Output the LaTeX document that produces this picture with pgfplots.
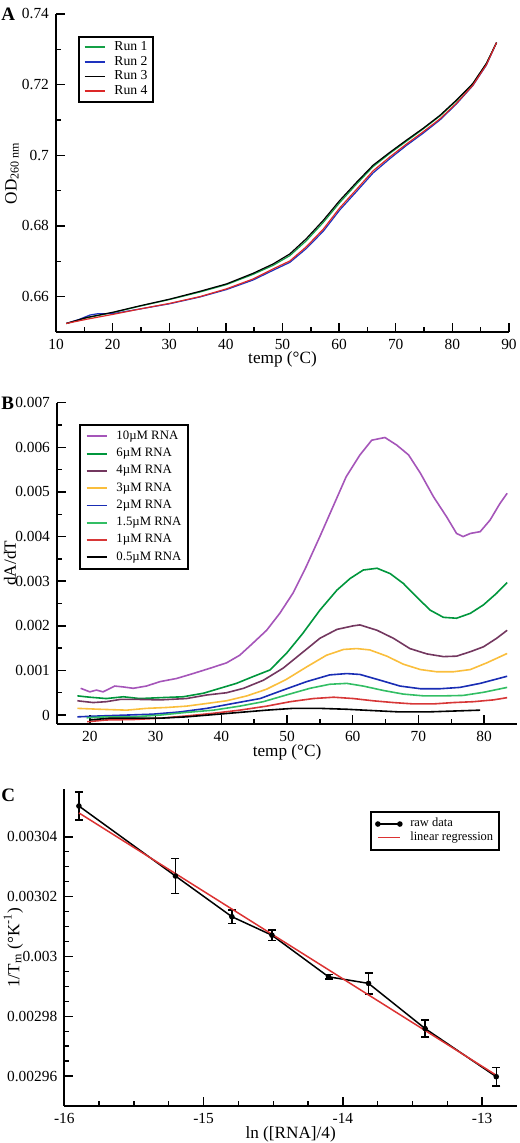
\documentclass[border=0pt]{standalone}
\usepackage{fontspec}
\setmainfont{Liberation Serif}
\usepackage{pgfplots}
\pgfplotsset{compat=1.18}

\definecolor{cGreenA}{RGB}{20,160,70}
\definecolor{cBlueA}{RGB}{30,50,190}
\definecolor{cRedA}{RGB}{220,40,40}
\definecolor{cPurple}{RGB}{165,85,185}
\definecolor{cGreen6}{RGB}{0,150,60}
\definecolor{cMaroon}{RGB}{115,55,95}
\definecolor{cYellow}{RGB}{250,190,60}
\definecolor{cBlue2}{RGB}{25,45,180}
\definecolor{cLGreen}{RGB}{50,190,100}
\definecolor{cRed1}{RGB}{215,55,55}
\definecolor{cRegr}{RGB}{220,50,50}

\pgfplotsset{
  myaxis/.style={
    scale only axis,
    axis lines*=left,
    axis line style={line width=1pt},
    tick align=inside,
    major tick length=4.5pt,
    minor tick length=2.5pt,
    every tick/.style={black, line width=0.7pt},
    tick label style={font=\fontsize{7.7}{8}\selectfont},
    label style={font=\fontsize{8.6}{9}\selectfont},
    /pgf/number format/assume math mode=true,
    scaled ticks=false,
    legend cell align=left,
    legend image code/.code={\draw[##1, line width=0.9pt] (0pt,0pt) -- (10pt,0pt);},
  },
  rawleg/.style={legend image code/.code={\draw[##1] plot coordinates {(0pt,0pt) (11pt,0pt)};}},
  regleg/.style={legend image code/.code={\draw[##1] (0pt,0pt) -- (11pt,0pt);}},
}

\begin{document}
\begin{tikzpicture}
\useasboundingbox (0,0) rectangle (259.5pt,571.5pt);

% ---------------- Panel A ----------------
\begin{axis}[myaxis,
  at={(28pt,405.5pt)}, anchor=south west,
  width=226.5pt, height=159pt,
  xmin=10, xmax=90, ymin=0.65, ymax=0.74,
  xtick={10,20,...,90}, minor x tick num=1,
  ytick={0.66,0.68,0.7,0.72,0.74}, minor y tick num=1,
  yticklabel style={/pgf/number format/.cd, fixed, precision=2},
  xlabel={temp (°C)},
  ylabel={OD\textsubscript{260 nm}},
  xlabel style={at={(axis description cs:0.5,-0.085)}, anchor=center},
  ylabel style={at={(axis description cs:-0.097,0.5)}, anchor=center},
  legend style={at={(axis description cs:0.0486,0.931)}, anchor=north west,
    draw=black, line width=1pt, font=\fontsize{6.85}{7.2}\selectfont,
    inner xsep=2.3pt, inner ysep=1.8pt, nodes={inner sep=0.5pt, text depth=0.12em},
    row sep=0.6pt, column sep=4pt},
]
\addplot[cGreenA, line width=0.6pt] coordinates {
(11.8,0.6524) (15.4,0.6540) (20.1,0.6555) (24.8,0.6573) (30.1,0.6592) (35.4,0.6613)
(40.1,0.6634) (44.8,0.6663) (48.4,0.6689) (51.3,0.6716) (54.2,0.6758) (57.2,0.6810)
(60.1,0.6866) (63.1,0.6919) (66.0,0.6968) (69.0,0.7006) (71.9,0.7040) (74.8,0.7074)
(77.8,0.7111) (80.7,0.7154) (83.6,0.7202) (86.0,0.7259) (87.8,0.7319)};
\addlegendentry{Run 1}
\addplot[cBlueA, line width=0.6pt] coordinates {
(11.8,0.6524) (14.0,0.6535) (16.0,0.6548) (17.5,0.6552) (20.1,0.6552) (24.8,0.6565)
(30.1,0.6580) (35.4,0.6599) (40.1,0.6620) (44.8,0.6647) (48.4,0.6675) (51.3,0.6697)
(54.2,0.6736) (57.2,0.6785) (60.1,0.6845) (63.1,0.6898) (66.0,0.6950) (69.0,0.6991)
(71.9,0.7028) (74.8,0.7062) (77.8,0.7100) (80.7,0.7145) (83.6,0.7197) (86.0,0.7255) (87.8,0.7319)};
\addlegendentry{Run 2}
\addplot[black, line width=0.6pt] coordinates {
(11.8,0.6524) (15.4,0.6541) (20.1,0.6556) (24.8,0.6574) (30.1,0.6593) (35.4,0.6615)
(40.1,0.6636) (44.8,0.6666) (48.4,0.6693) (51.3,0.6721) (54.2,0.6764) (57.2,0.6816)
(60.1,0.6872) (63.1,0.6924) (66.0,0.6972) (69.0,0.7009) (71.9,0.7043) (74.8,0.7076)
(77.8,0.7113) (80.7,0.7156) (83.6,0.7203) (86.0,0.7260) (87.8,0.7319)};
\addlegendentry{Run 3}
\addplot[cRedA, line width=0.6pt] coordinates {
(11.8,0.6524) (15.4,0.6536) (20.1,0.6550) (24.8,0.6565) (30.1,0.6581) (35.4,0.6600)
(40.1,0.6622) (44.8,0.6650) (48.4,0.6679) (51.3,0.6701) (54.2,0.6741) (57.2,0.6791)
(60.1,0.6851) (63.1,0.6904) (66.0,0.6956) (69.0,0.6996) (71.9,0.7032) (74.8,0.7066)
(77.8,0.7103) (80.7,0.7147) (83.6,0.7198) (86.0,0.7256) (87.8,0.7319)};
\addlegendentry{Run 4}
\end{axis}

% ---------------- Panel B ----------------
\begin{axis}[myaxis,
  at={(28.5pt,209.5pt)}, anchor=south west,
  width=230pt, height=160.65pt,
  xmin=15, xmax=85, ymin=-0.0002, ymax=0.007,
  xtick={20,30,...,80}, minor x tick num=1,
  ytick={0,0.001,0.002,0.003,0.004,0.005,0.006,0.007}, minor y tick num=1,
  yticklabel style={/pgf/number format/.cd, fixed, precision=3},
  xlabel={temp (°C)},
  ylabel={dA/dT},
  xlabel style={at={(axis description cs:0.5,-0.087)}, anchor=center},
  ylabel style={at={(axis description cs:-0.102,0.5)}, anchor=center},
  legend style={at={(axis description cs:0.048,0.934)}, anchor=north west,
    draw=black, line width=1pt, font=\fontsize{6.4}{7}\selectfont,
    inner xsep=2.8pt, inner ysep=2.5pt, nodes={inner sep=0.5pt, text depth=0.12em},
    row sep=2.2pt, column sep=4pt},
]
\addplot[cPurple, line width=0.8pt] coordinates {
(18.6,0.00060) (20,0.00052) (21,0.00056) (22,0.00052) (23.8,0.00065) (25.1,0.00063)
(26.6,0.00060) (28.6,0.00065) (30.7,0.00075) (33.2,0.00082) (35.7,0.00093) (38.3,0.00105)
(40.8,0.00117) (42.8,0.00134) (44.8,0.00161) (46.9,0.00190) (48.9,0.00228) (50.9,0.00273)
(52.9,0.00332) (55.0,0.00400) (57.0,0.00467) (59.0,0.00534) (61.1,0.00583) (62.9,0.00616)
(64.9,0.00622) (66.7,0.00605) (68.5,0.00583) (70.3,0.00542) (72.3,0.00489) (74.3,0.00444)
(75.8,0.00407) (76.8,0.00400) (77.9,0.00407) (79.4,0.00411) (80.9,0.00437) (82.4,0.00474) (83.5,0.00497)};
\addlegendentry{10µM RNA}
\addplot[cGreen6, line width=0.8pt] coordinates {
(18.1,0.00043) (20,0.00040) (22.5,0.00037) (25.1,0.00041) (27.6,0.00037) (30.7,0.00039)
(34.2,0.00041) (37.3,0.00049) (39.8,0.00060) (42.3,0.00071) (44.8,0.00086) (47.4,0.00101)
(49.9,0.00138) (52.4,0.00183) (55.0,0.00235) (57.6,0.00280) (59.6,0.00306) (61.6,0.00325)
(63.7,0.00329) (65.7,0.00317) (67.7,0.00295) (69.7,0.00265) (71.8,0.00235) (73.8,0.00219)
(75.8,0.00217) (77.9,0.00228) (79.9,0.00247) (81.9,0.00273) (83.5,0.00297)};
\addlegendentry{6µM RNA}
\addplot[cMaroon, line width=0.8pt] coordinates {
(18.1,0.00032) (20.5,0.00028) (22.5,0.00030) (24.6,0.00035) (27.6,0.00035) (30.7,0.00034)
(34.7,0.00037) (37.8,0.00045) (40.8,0.00050) (43.4,0.00060) (46.4,0.00078) (49.4,0.00105)
(52.5,0.00142) (55.0,0.00172) (57.6,0.00192) (60.1,0.00200) (61.1,0.00202) (63.7,0.00190)
(66.2,0.00172) (68.7,0.00149) (71.3,0.00137) (73.8,0.00131) (75.8,0.00132) (77.9,0.00142)
(79.9,0.00153) (81.9,0.00172) (83.5,0.00190)};
\addlegendentry{4µM RNA}
\addplot[cYellow, line width=0.8pt] coordinates {
(18.1,0.00015) (21.5,0.00013) (25.6,0.00011) (28.6,0.00015) (31.7,0.00017) (34.7,0.00020)
(37.8,0.00026) (40.8,0.00032) (43.9,0.00043) (46.9,0.00058) (49.9,0.00080) (53.0,0.00108)
(56.0,0.00134) (58.6,0.00147) (60.6,0.00149) (62.6,0.00146) (65.2,0.00132) (67.7,0.00114)
(70.3,0.00102) (72.8,0.00097) (75.3,0.00097) (77.9,0.00102) (80.4,0.00117) (83.5,0.00138)};
\addlegendentry{3µM RNA}
\addplot[cBlue2, line width=0.8pt] coordinates {
(18.1,-0.00004) (21.5,-0.00002) (25.6,0.00000) (29.6,0.00002) (33.7,0.00007) (37.8,0.00015)
(41.8,0.00026) (45.9,0.00037) (49.4,0.00056) (53.0,0.00075) (56.5,0.00090) (59.1,0.00093)
(61.1,0.00091) (64.2,0.00078) (67.2,0.00065) (70.3,0.00059) (73.3,0.00059) (76.3,0.00062)
(79.4,0.00071) (83.5,0.00087)};
\addlegendentry{2µM RNA}
\addplot[cLGreen, line width=0.8pt] coordinates {
(19.5,-0.00006) (22.5,-0.00004) (26.6,-0.00004) (30.7,0.00000) (34.7,0.00006) (38.8,0.00011)
(42.8,0.00020) (46.4,0.00030) (49.9,0.00045) (53.5,0.00060) (56.5,0.00069) (59.1,0.00071)
(61.6,0.00065) (64.7,0.00055) (67.7,0.00047) (70.8,0.00043) (73.8,0.00043) (76.8,0.00044)
(79.9,0.00051) (83.5,0.00062)};
\addlegendentry{1.5µM RNA}
\addplot[cRed1, line width=0.8pt] coordinates {
(19.6,-0.00015) (22.5,-0.00011) (26.6,-0.00010) (30.7,-0.00007) (34.7,-0.00002) (38.8,0.00004)
(42.8,0.00011) (46.9,0.00020) (50.5,0.00030) (54.0,0.00037) (57.1,0.00040) (60.1,0.00037)
(63.1,0.00032) (66.2,0.00028) (69.2,0.00025) (72.3,0.00025) (75.3,0.00028) (78.4,0.00030)
(81.4,0.00034) (83.5,0.00039)};
\addlegendentry{1µM RNA}
\addplot[black, line width=0.8pt] coordinates {
(19.9,-0.00011) (23.0,-0.00007) (26.6,-0.00007) (30.7,-0.00007) (34.7,-0.00004) (38.8,0.00001)
(42.8,0.00006) (46.9,0.00011) (50.9,0.00015) (55.0,0.00015) (59.1,0.00013) (63.1,0.00010)
(67.2,0.00007) (71.3,0.00007) (75.3,0.00009) (79.4,0.00011)};
\addlegendentry{0.5µM RNA}
\end{axis}

% ---------------- Panel C ----------------
\begin{axis}[myaxis,
  at={(32.15pt,18.5pt)}, anchor=south west,
  width=226.35pt, height=158.5pt,
  xmin=-16, xmax=-12.75, ymin=0.00295, ymax=0.003056,
  xtick={-16,-15,-14,-13}, minor x tick num=3,
  ytick={0.00296,0.00298,0.003,0.00302,0.00304}, minor y tick num=3,
  yticklabel style={/pgf/number format/.cd, fixed, precision=5},
  xlabel={ln ([RNA]/4)},
  ylabel={1/T\textsubscript{m} (°K\textsuperscript{-1})},
  xlabel style={at={(axis description cs:0.5,-0.089)}, anchor=center},
  ylabel style={at={(axis description cs:-0.1126,0.5)}, anchor=center},
  legend style={at={(axis description cs:0.675,0.930)}, anchor=north west,
    draw=black, line width=1pt, font=\fontsize{6.25}{6.8}\selectfont,
    inner xsep=2.5pt, inner ysep=2.5pt, nodes={inner sep=0.5pt, text depth=0.15em},
    row sep=0pt, column sep=3.7pt},
]
\addplot[black, line width=0.75pt, mark=*, mark size=1pt, rawleg,
  error bars/.cd, y dir=both, y explicit,
  error bar style={line width=0.7pt}, error mark options={rotate=90, mark size=2pt, line width=0.7pt}]
  coordinates {
  (-15.895,0.0030503) +- (0,0.0000047)
  (-15.202,0.0030269) +- (0,0.0000059)
  (-14.797,0.0030133) +- (0,0.0000023)
  (-14.509,0.0030071) +- (0,0.0000018)
  (-14.103,0.0029932) +- (0,0.0000008)
  (-13.816,0.0029910) +- (0,0.0000035)
  (-13.410,0.0029759) +- (0,0.0000028)
  (-12.899,0.0029598) +- (0,0.0000031)
};
\addlegendentry{raw data}
\addplot[cRegr, line width=0.75pt, regleg]
  coordinates {(-15.895,0.0030480) (-12.899,0.0029603)};
\addlegendentry{linear regression}
\end{axis}

% panel letters
\node[font=\fontsize{9.5}{10}\bfseries\selectfont, anchor=west, inner sep=0pt] at (0.5pt,564.5pt) {A};
\node[font=\fontsize{9.5}{10}\bfseries\selectfont, anchor=west, inner sep=0pt] at (0.5pt,370pt) {B};
\node[font=\fontsize{9.5}{10}\bfseries\selectfont, anchor=west, inner sep=0pt] at (0.5pt,174pt) {C};
\end{tikzpicture}
\end{document}
